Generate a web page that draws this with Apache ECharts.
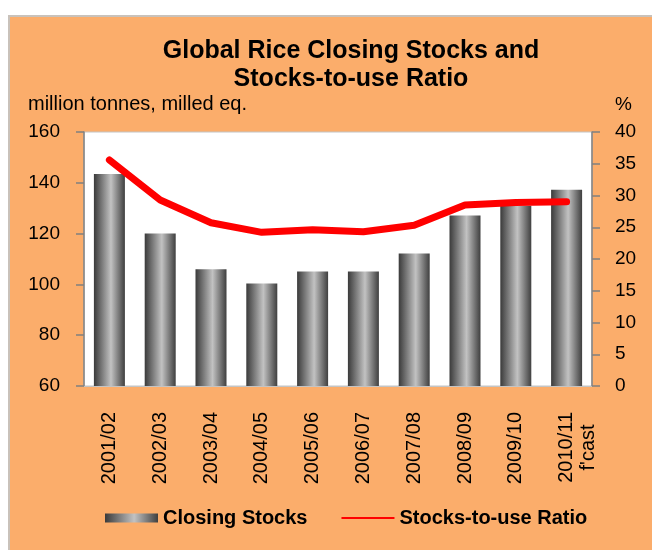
<!DOCTYPE html>
<html>
<head>
<meta charset="utf-8">
<script src="https://cdn.jsdelivr.net/npm/echarts@6/dist/echarts.min.js"></script>
<style>
  html, body { margin: 0; padding: 0; background: #fff; }
  #chart { width: 652px; height: 550px; }
</style>
</head>
<body>
<div id="chart"></div>
<script>
// seasons along the x axis
var seasons = ["2001/02", "2002/03", "2003/04", "2004/05", "2005/06",
  "2006/07", "2007/08", "2008/09", "2009/10", "2010/11\nf'cast"];
// closing stocks, million tonnes milled eq.
var closingStocks = [143.5, 120, 106, 100.4, 105.1, 105.1, 112.2, 127.1, 131, 137.3];
// stocks-to-use ratio, %
var stocksToUse = [35.6, 29.3, 25.7, 24.2, 24.6, 24.3, 25.3, 28.5, 28.9, 29.0];

var orange = "#FBAD6B";
var barGrad = new echarts.graphic.LinearGradient(0, 0, 1, 0, [
  { offset: 0, color: "#3a3a3a" },
  { offset: 0.55, color: "#c2c2c2" },
  { offset: 1, color: "#3f3f3f" }
]);
var txt = { fontFamily: "Liberation Sans", fontSize: 19, color: "#000" };
var xTxt = { fontFamily: "Liberation Sans", fontSize: 20, lineHeight: 22, color: "#000" };

var myChart = echarts.init(document.getElementById("chart"));
var option = {
  animation: false,
  backgroundColor: "#fff",
  graphic: [
    {
      type: "rect",
      z: -10,
      shape: { x: 9, y: 16, width: 660, height: 560 },
      style: { fill: orange, stroke: "#c9c2bb", lineWidth: 2 }
    }
  ],
  title: {
    text: "Global Rice Closing Stocks and\nStocks-to-use Ratio",
    left: 346,
    top: 32,
    textAlign: "center",
    textStyle: {
      fontFamily: "Liberation Sans",
      fontWeight: "bold",
      fontSize: 25,
      lineHeight: 28,
      color: "#000"
    }
  },
  grid: {
    left: 84,
    right: 60,
    top: 132,
    bottom: 164,
    containLabel: false,
    outerBoundsMode: "none",
    show: true,
    backgroundColor: "#fff",
    borderColor: "#c4c4c4",
    borderWidth: 1
  },
  legend: {
    top: 508,
    left: 105,
    padding: 0,
    itemGap: 34,
    itemWidth: 53,
    itemHeight: 9,
    textStyle: { fontFamily: "Liberation Sans", fontSize: 20, fontWeight: "bold", color: "#000" },
    data: [
      { name: "Closing Stocks", icon: "rect" },
      {
        name: "Stocks-to-use Ratio",
        icon: "path://M0,0 L0.01,0 M0,3.5 L53,3.5 L53,5.5 L0,5.5 Z M53,9 L52.99,9",
        itemStyle: { color: "#ff0000" }
      }
    ]
  },
  xAxis: {
    type: "category",
    data: seasons,
    axisLine: { show: true, lineStyle: { color: "#c4c4c4" } },
    axisTick: { show: false },
    axisLabel: Object.assign({}, xTxt, {
      rotate: 90,
      margin: 26,
      // first line stays on its tick, second line centred under it
      formatter: function (v) {
        var parts = v.split("\n");
        if (parts.length < 2) return v;
        return "\n{a|" + parts[0] + "}\n{c|" + parts[1] + "}";
      },
      rich: {
        a: Object.assign({}, xTxt, { align: "right" }),
        c: Object.assign({}, xTxt, { align: "center" })
      }
    })
  },
  yAxis: [
    {
      type: "value",
      min: 60,
      max: 160,
      interval: 20,
      name: "million tonnes, milled eq.",
      nameLocation: "end",
      nameGap: 18,
      nameTextStyle: Object.assign({}, txt, { fontSize: 20, align: "left", padding: [0, 0, 0, -56] }),
      axisLine: { show: true, lineStyle: { color: "#808080", width: 1.5 } },
      axisTick: { show: true, inside: false, length: 8, lineStyle: { color: "#808080", width: 1.5 } },
      axisLabel: Object.assign({}, txt, { margin: 24 }),
      splitLine: { show: false }
    },
    {
      type: "value",
      min: 0,
      max: 40,
      interval: 5,
      name: "%",
      nameLocation: "end",
      nameGap: 18,
      nameTextStyle: Object.assign({}, txt, { align: "left", padding: [0, 0, 0, 23] }),
      axisLine: { show: true, lineStyle: { color: "#808080", width: 1.5 } },
      axisTick: { show: true, inside: false, length: 8, lineStyle: { color: "#808080", width: 1.5 } },
      axisLabel: Object.assign({}, txt, { margin: 23, align: "left" }),
      splitLine: { show: false }
    }
  ],
  series: [
    {
      name: "Closing Stocks",
      type: "bar",
      yAxisIndex: 0,
      barWidth: 31,
      itemStyle: { color: barGrad },
      data: closingStocks
    },
    {
      name: "Stocks-to-use Ratio",
      type: "line",
      yAxisIndex: 1,
      symbol: "none",
      lineStyle: { color: "#ff0000", width: 7, cap: "round", join: "round" },
      itemStyle: { color: "#ff0000" },
      data: stocksToUse
    }
  ]
};
myChart.setOption(option);
</script>
</body>
</html>
